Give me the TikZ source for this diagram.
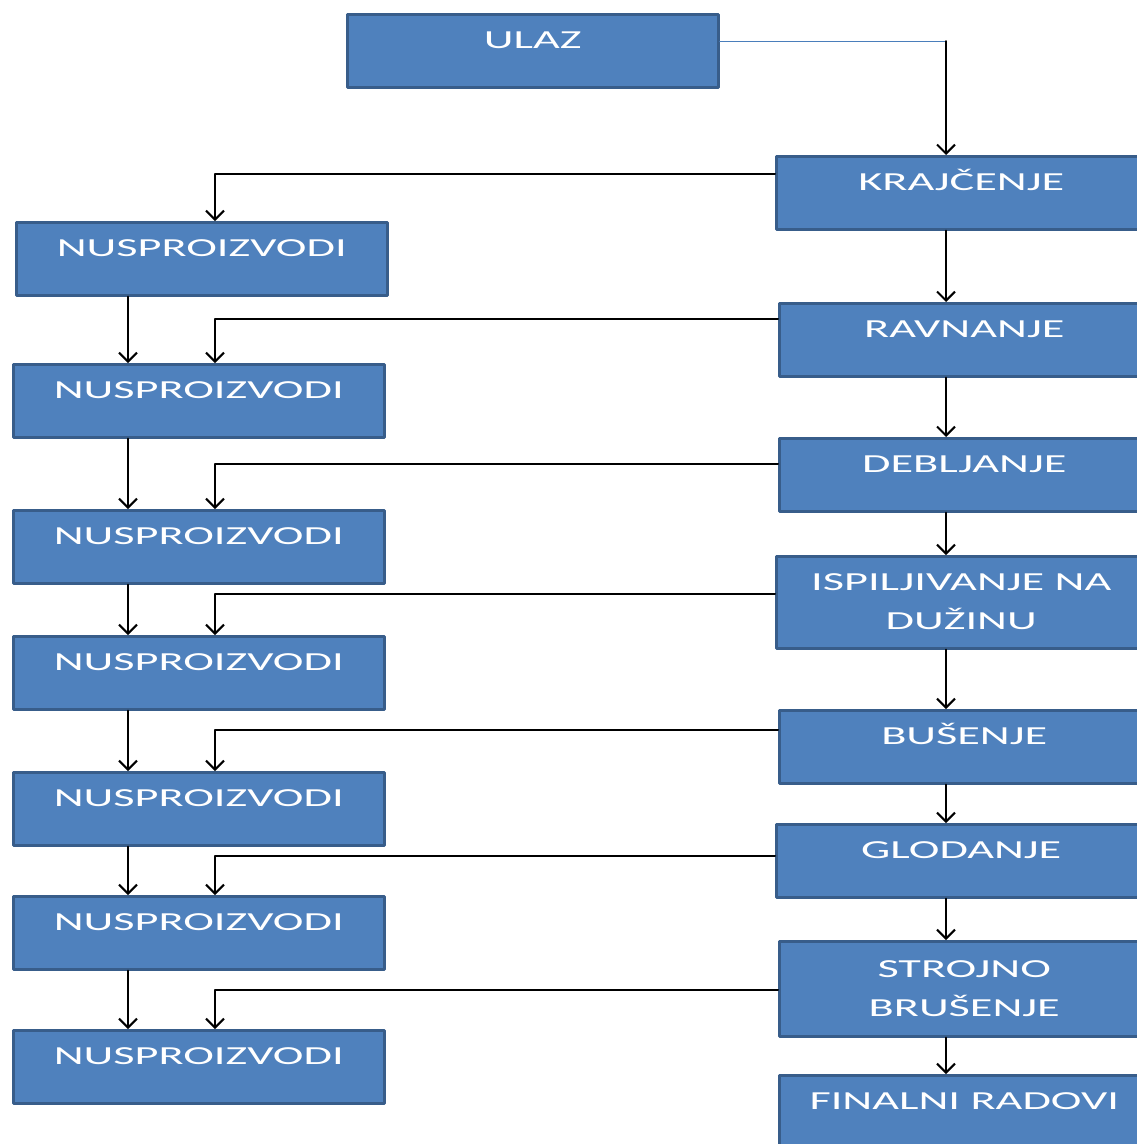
\documentclass[tikz,border=0pt]{standalone}
\usepackage{fontspec}
\usetikzlibrary{arrows.meta, calc, positioning}
\newfontfamily\boxfont[FakeStretch=1.78]{Carlito}
\definecolor{officeblue}{RGB}{79, 129, 189}
\definecolor{darkblue}{RGB}{56, 93, 138}
\definecolor{lineblue}{RGB}{74, 126, 187}

\begin{document}
\begin{tikzpicture}[x=1pt, y=-1pt, line cap=round, line join=round,
    >={Straight Barb[length=9pt,width=18pt]},
    box/.style={draw=darkblue, fill=officeblue, line width=2.5pt, anchor=north west,
        inner sep=0pt, minimum width=371pt, text=white, align=center,
        font=\boxfont\fontsize{26}{39}\selectfont, text height=34.5pt, text depth=38.5pt},
    rightbox/.style={box, minimum width=370pt},
    twoline/.style={text height=73.5pt, text depth=18.5pt},
    flow/.style={->, black, line width=2pt}]

    % page
    \fill[white] (0,0) rectangle (1137,1144);
    \useasboundingbox (0,0) rectangle (1137,1144);

    % main column
    \node[box] (ulaz) at (346,13) {ULAZ};
    \node[rightbox] (kraj) at (775,155) {KRAJČENJE};
    \node[rightbox] (ravn) at (778,302) {RAVNANJE};
    \node[rightbox] (debl) at (778,437) {DEBLJANJE};
    \node[rightbox, twoline] (ispil) at (775,555) {ISPILJIVANJE NA\\DUŽINU};
    \node[rightbox] (busenje) at (778,709) {BUŠENJE};
    \node[rightbox] (glod) at (775,823) {GLODANJE};
    \node[rightbox, twoline, text height=75.5pt, text depth=19.5pt] (stroj) at (778,940) {STROJNO\\BRUŠENJE};
    \node[rightbox] (final) at (778,1074) {FINALNI RADOVI};

    % by-products column
    \node[box] (nus1) at (15,221) {NUSPROIZVODI};
    \foreach \i/\y in {2/363, 3/509, 4/635, 5/771, 6/895, 7/1029}
        \node[box] (nus\i) at (12,\y) {NUSPROIZVODI};

    % helper positions
    \coordinate (spine) at (946,41);
    \coordinate (ljoin) at (215,0);
    \coordinate (lspine) at (128,0);

    % input line
    \draw[lineblue, line width=1pt] ($(ulaz.north east)+(0,28)$) -- (spine);
    \draw[flow] (spine) -- (spine |- kraj.north);

    % main flow
    \foreach \a/\b in {kraj/ravn, ravn/debl, debl/ispil, ispil/busenje, busenje/glod, glod/stroj, stroj/final}
        \draw[flow] (spine |- \a.south) -- (spine |- \b.north);

    % by-product flow
    \foreach \a/\b in {nus1/nus2, nus2/nus3, nus3/nus4, nus4/nus5, nus5/nus6, nus6/nus7}
        \draw[flow] (lspine |- \a.south) -- (lspine |- \b.north);

    % branches
    \foreach \a/\b/\d in {kraj/nus1/19, ravn/nus2/17, debl/nus3/27, ispil/nus4/39, busenje/nus5/21, glod/nus6/33, stroj/nus7/50}
        \draw[flow] ($(\a.north west)+(0,\d)$) -| (ljoin |- \b.north);
\end{tikzpicture}
\end{document}
